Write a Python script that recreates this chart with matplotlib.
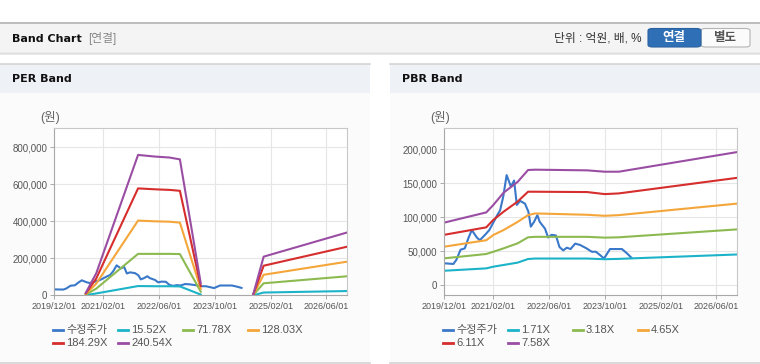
import numpy as np
import pandas as pd
import matplotlib
matplotlib.use("Agg")
import matplotlib.pyplot as plt
import matplotlib.dates as mdates
from matplotlib.patches import Rectangle, FancyBboxPatch
from matplotlib.lines import Line2D
from matplotlib.ticker import FuncFormatter

plt.rcParams['font.family'] = ['Liberation Sans', 'Noto Sans CJK KR']

nan = np.nan

# adjusted close (수정주가)
price_dates = ['2019-12-01', '2020-02-18', '2020-03-15', '2020-04-21', '2020-05-28', '2020-06-28',
               '2020-07-28', '2020-09-10', '2020-10-06', '2020-11-21', '2020-12-28', '2021-02-04',
               '2021-03-07', '2021-04-01', '2021-04-28', '2021-05-28', '2021-06-19', '2021-07-04',
               '2021-08-01', '2021-08-25', '2021-09-22', '2021-11-04', '2021-12-04', '2021-12-25',
               '2022-01-22', '2022-02-20', '2022-03-13', '2022-04-28', '2022-05-25', '2022-06-25',
               '2022-08-01', '2022-09-01', '2022-10-04', '2022-11-04', '2022-12-07', '2023-01-16',
               '2023-02-28', '2023-04-25', '2023-06-10', '2023-07-16', '2023-08-22', '2023-09-25',
               '2023-11-16', '2024-02-28', '2024-04-10', '2024-05-22']
price = [32000, 31000, 37000, 52000, 54000, 69000,
         81000, 70000, 66000, 74000, 81000, 93000,
         103000, 110000, 130000, 162000, 152000, 145000,
         154000, 118000, 124000, 120000, 108000, 86000,
         93000, 103000, 93000, 83000, 70000, 74000,
         73000, 56000, 51000, 55000, 53000, 61000,
         59000, 54000, 49000, 49000, 44000, 39000,
         53000, 53000, 47000, 40000]

# PER band
per_dates = ['2020-09-01', '2020-12-01', '2021-12-01', '2022-05-01', '2022-09-01', '2022-12-01',
             '2023-06-01', '2024-01-01', '2024-09-01', '2024-12-01', '2026-12-01']
per_1552 = [900, 10000, 50000, 49000, 49000, 48000, 4000, nan, 300, 15000, 23000]
per_7178 = [4200, 36000, 224000, 224000, 224000, 223000, 19500, nan, 1400, 65000, 103000]
per_12803 = [7400, 63000, 404000, 400000, 398000, 393000, 35000, nan, 2600, 111000, 182000]
per_18429 = [10700, 91000, 578000, 573000, 570000, 565000, 50000, nan, 3700, 160000, 263000]
per_24054 = [14000, 119000, 759000, 750000, 745000, 735000, 65000, nan, 5000, 209000, 340000]
per_labels = ['15.52X', '71.78X', '128.03X', '184.29X', '240.54X']

# PBR band
pbr_dates = ['2019-12-01', '2020-12-01', '2021-02-01', '2021-05-01', '2021-09-01', '2021-12-01',
             '2022-02-01', '2023-05-01', '2023-10-01', '2024-02-01', '2026-12-01']
pbr_171 = [21000, 24500, 27000, 29500, 33000, 38300, 39000, 39000, 38000, 38500, 45000]
pbr_318 = [39300, 45700, 49000, 54000, 61400, 70300, 71000, 71000, 69800, 70300, 82000]
pbr_465 = [56500, 66000, 73700, 81000, 93000, 103000, 105500, 103500, 102000, 103000, 120000]
pbr_611 = [74000, 85000, 96000, 108000, 123000, 137500, 137500, 137000, 134000, 135000, 158000]
pbr_758 = [92000, 107000, 118000, 136000, 152000, 169500, 170000, 169000, 167000, 167000, 196000]
pbr_labels = ['1.71X', '3.18X', '4.65X', '6.11X', '7.58X']

xtick_dates = ['2019-12-01', '2021-02-01', '2022-06-01', '2023-10-01', '2025-02-01', '2026-06-01']

colors = ['#3a78c9', '#1cb3c8', '#8cba51', '#f5a63a', '#d62d2d', '#9a4ea3']

W, H = 760, 364
fig = plt.figure(figsize=(W / 100, H / 100), dpi=100)
fig.patch.set_facecolor('white')


def fx(x):
    return x / W


def fy(y):
    return 1 - y / H


def box(x0, y0, x1, y1, fc, ec='none', lw=0):
    fig.patches.append(Rectangle((fx(x0), fy(y1)), fx(x1 - x0), (y1 - y0) / H, zorder=-10,
                                 transform=fig.transFigure, facecolor=fc, edgecolor=ec, lw=lw))


def hline(x0, x1, y, c, lw=1):
    fig.add_artist(Line2D([fx(x0), fx(x1)], [fy(y), fy(y)], color=c, lw=lw, zorder=-5,
                          transform=fig.transFigure))


bold = ['DejaVu Sans', 'Noto Sans CJK KR']

# top header
box(0, 22.5, 760, 52.5, '#f4f4f4')
hline(0, 760, 22.5, '#b4b4b4', 1.2)
hline(0, 760, 52.8, '#c4c4c4', 1.0)
hline(0, 760, 54, '#e6e6e6', 1.2)
fig.text(fx(12), fy(38.5), 'Band Chart', family=bold, weight='bold', fontsize=8, color='#111111', va='center')
fig.text(fx(88), fy(38.5), '[연결]', fontsize=8.5, color='#888888', va='center')
fig.text(fx(641), fy(38.5), '단위 : 억원, 배, %', fontsize=8.5, color='#333333', va='center', ha='right')
fig.patches.append(FancyBboxPatch((fx(701), fy(47)), fx(49), 18.5 / H, boxstyle='round,pad=0,rounding_size=0.006',
                                  transform=fig.transFigure, facecolor='#fbfbfb', edgecolor='#b4b4b4', lw=0.8,
                                  zorder=-4))
fig.patches.append(FancyBboxPatch((fx(648), fy(47)), fx(53), 18.5 / H, boxstyle='round,pad=0,rounding_size=0.006',
                                  transform=fig.transFigure, facecolor='#2f6fb5', edgecolor='#2a62a0', lw=0.8,
                                  zorder=-4))
fig.text(fx(674), fy(38.3), '연결', fontsize=9, weight='bold', color='white', va='center', ha='center')
fig.text(fx(725), fy(38.3), '별도', fontsize=9, weight='bold', color='#555555', va='center', ha='center')


def panel(x0, x1, title):
    box(x0, 64, x1, 93, '#eef1f6')
    box(x0, 93, x1, 362.5, '#fbfbfb')
    hline(x0, x1, 64, '#d4d4d4', 1.2)
    hline(x0, x1, 362.8, '#d4d4d4', 1.2)
    fig.text(fx(x0 + 12), fy(79.5), title, family=bold, weight='bold', fontsize=8, color='#111111', va='center')
    fig.text(fx(x0 + 50), fy(117.5), '(원)', fontsize=9, color='#666666', va='center', ha='center')


panel(0, 370, 'PER Band')
panel(390, 760, 'PBR Band')


def band_axes(left, series, labels, band_dates, ylim, yticks):
    ax = fig.add_axes([fx(left), fy(295.3), (293) / W, (295.3 - 128.3) / H])
    ax.set_facecolor('white')
    ax.plot(pd.to_datetime(price_dates), price, color=colors[0], lw=1.5)
    for vals, c in zip(series, colors[1:]):
        ax.plot(pd.to_datetime(band_dates), vals, color=c, lw=1.5)
    ax.set_xlim(pd.Timestamp('2019-12-01'), pd.Timestamp('2026-12-01'))
    ax.set_ylim(*ylim)
    ax.set_xticks(pd.to_datetime(xtick_dates))
    ax.xaxis.set_major_formatter(mdates.DateFormatter('%Y/%m/%d'))
    ax.set_yticks(yticks)
    ax.yaxis.set_major_formatter(FuncFormatter(lambda v, p: f'{int(v):,}'))
    ax.grid(True, color='#e6e6e6', lw=0.8)
    ax.set_axisbelow(True)
    ax.tick_params(axis='x', labelsize=6.5, colors='#555555', length=3, width=0.7, color='#aaaaaa', pad=2)
    ax.tick_params(axis='y', labelsize=7, colors='#555555', length=3, width=0.7, color='#aaaaaa', pad=2)
    for s in ['left', 'bottom']:
        ax.spines[s].set_color('#a8a8a8')
    for s in ['top', 'right']:
        ax.spines[s].set_color('#c8c8c8')
    # legend, two rows of four
    names = ['수정주가'] + labels
    for i, (name, c) in enumerate(zip(names, colors)):
        x = left - 1.3 + 65 * (i % 4)
        y = 330 + 13 * (i // 4)
        fig.add_artist(Line2D([fx(x), fx(x + 10)], [fy(y), fy(y)], color=c, lw=2, transform=fig.transFigure))
        fig.text(fx(x + 13), fy(y), name, fontsize=8, color='#555555', va='center')
    return ax


band_axes(54.3, [per_1552, per_7178, per_12803, per_18429, per_24054], per_labels, per_dates,
          (0, 903000), [0, 200000, 400000, 600000, 800000])
band_axes(444.3, [pbr_171, pbr_318, pbr_465, pbr_611, pbr_758], pbr_labels, pbr_dates,
          (-15200, 231000), [0, 50000, 100000, 150000, 200000])

fig.savefig('out.png', dpi=100)
